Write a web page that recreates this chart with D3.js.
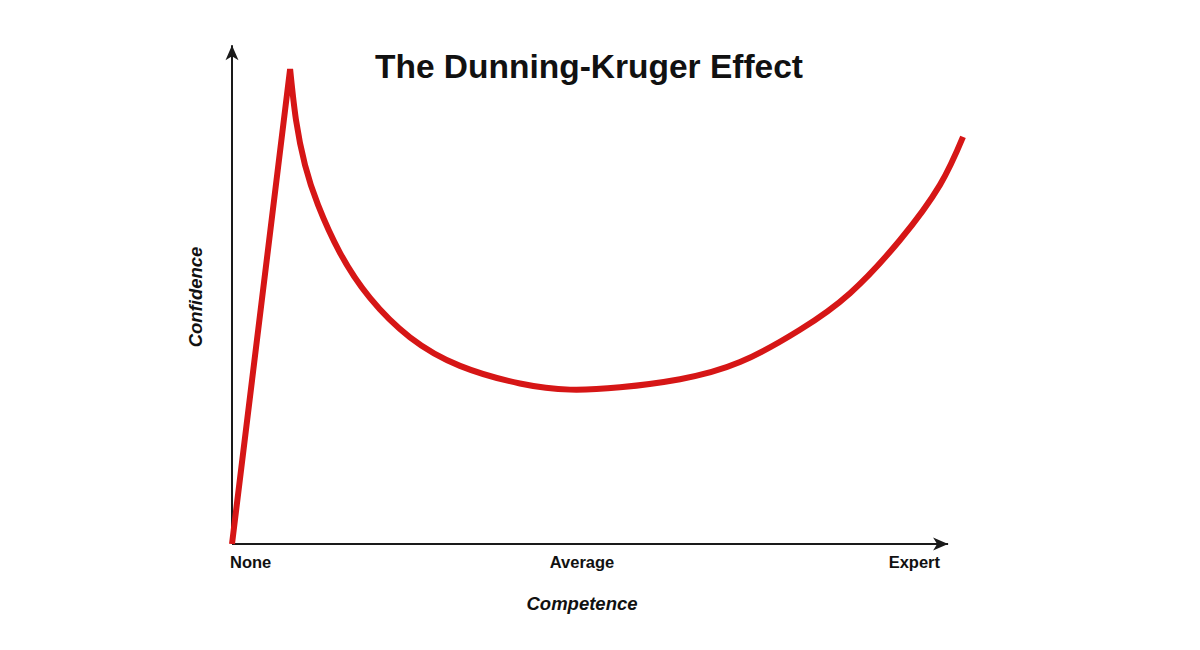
<!DOCTYPE html>
<html>
<head>
<meta charset="utf-8">
<script src="https://cdn.jsdelivr.net/npm/d3@7"></script>
<style>
  html, body { margin: 0; padding: 0; background: #fff; }
  svg { display: block; }
  text { font-family: "Liberation Sans", Arial, sans-serif; fill: #111; }
</style>
</head>
<body>
<svg id="chart" width="1200" height="650"></svg>
<script>
// ---- data ----
const title = "The Dunning-Kruger Effect";
const xAxisTitle = "Competence";
const yAxisTitle = "Confidence";
const tickLabels = ["None", "Average", "Expert"];
const tickValues = [0, 50, 100];

// rising part (straight line to the peak)
const riseCompetence = [0, 8.3];
const riseConfidence = [0, 100];

// falling and recovering part (from the peak onward)
const curveCompetence = [8.3, 9.14, 10.43, 12.29, 15.43, 19.71, 25.43, 32.57, 41.14, 48.29, 55.43, 64.0, 72.57, 81.14, 88.29, 95.43, 101.14, 104.43];
const curveConfidence = [100, 89.3, 79.8, 71.4, 61.3, 51.8, 43.5, 37.5, 33.8, 32.5, 33.0, 34.7, 38.3, 45.1, 52.8, 64.0, 75.6, 85.7];

// ---- chart ----
const svg = d3.select("#chart");
const x = d3.scaleLinear().domain([0, 100]).range([232, 932]);
const y = d3.scaleLinear().domain([0, 100]).range([544, 69]);

const axisColor = "#1a1a1a";

// arrow marker
const defs = svg.append("defs");
defs.append("marker")
  .attr("id", "arrow")
  .attr("markerUnits", "userSpaceOnUse")
  .attr("viewBox", "-16 -8 18 16")
  .attr("refX", 0).attr("refY", 0)
  .attr("markerWidth", 18).attr("markerHeight", 16)
  .attr("orient", "auto")
  .append("path")
  .attr("d", "M0,0 L-15,-6.5 L-11,0 L-15,6.5 Z")
  .attr("fill", axisColor);

// axes
svg.append("line")
  .attr("x1", x(0)).attr("y1", y(0))
  .attr("x2", x(102.3)).attr("y2", y(0))
  .attr("stroke", axisColor).attr("stroke-width", 2)
  .attr("marker-end", "url(#arrow)");
svg.append("line")
  .attr("x1", x(0)).attr("y1", y(0))
  .attr("x2", x(0)).attr("y2", y(105))
  .attr("stroke", axisColor).attr("stroke-width", 2)
  .attr("marker-end", "url(#arrow)");

// curve
const rise = riseCompetence.map((c, i) => [c, riseConfidence[i]]);
const rest = curveCompetence.map((c, i) => [c, curveConfidence[i]]);
const lineLin = d3.line().x(d => x(d[0])).y(d => y(d[1])).curve(d3.curveLinear);
const lineCurve = d3.line().x(d => x(d[0])).y(d => y(d[1])).curve(d3.curveNatural);
const dRise = lineLin(rise);
const dRest = lineCurve(rest).replace(/^M[^A-Za-z]*/, "");
svg.append("path")
  .attr("d", dRise + dRest)
  .attr("fill", "none")
  .attr("stroke", "#d61616")
  .attr("stroke-width", 6)
  .attr("stroke-linejoin", "miter")
  .attr("stroke-miterlimit", 4)
  .attr("stroke-linecap", "butt");

// tick labels
const anchors = ["start", "middle", "end"];
const offsets = [-2, 0, 8];
svg.append("g").selectAll("text")
  .data(tickLabels)
  .join("text")
  .attr("x", (d, i) => x(tickValues[i]) + offsets[i])
  .attr("y", 568)
  .attr("text-anchor", (d, i) => anchors[i])
  .attr("font-size", 16.5)
  .attr("font-weight", "bold")
  .text(d => d);

// axis titles
svg.append("text")
  .attr("x", 582).attr("y", 610)
  .attr("text-anchor", "middle")
  .attr("font-size", 18.5)
  .attr("font-weight", "bold")
  .attr("font-style", "italic")
  .text(xAxisTitle);

svg.append("text")
  .attr("transform", "translate(202,297) rotate(-90)")
  .attr("text-anchor", "middle")
  .attr("font-size", 18.5)
  .attr("font-weight", "bold")
  .attr("font-style", "italic")
  .text(yAxisTitle);

// title
svg.append("text")
  .attr("x", 589).attr("y", 78)
  .attr("text-anchor", "middle")
  .attr("font-size", 33.5)
  .attr("font-weight", "bold")
  .text(title);
</script>
</body>
</html>
